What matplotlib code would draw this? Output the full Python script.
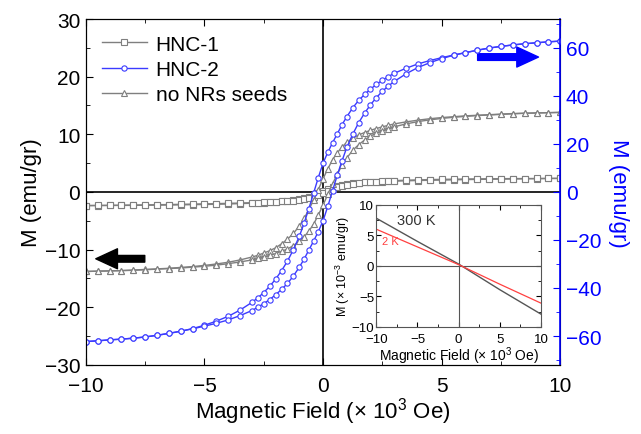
import matplotlib
matplotlib.use('Agg')
import matplotlib.pyplot as plt
from matplotlib.ticker import MultipleLocator
from matplotlib.patches import FancyArrowPatch

plt.rcParams['font.family'] = ['Liberation Sans', 'DejaVu Sans']
plt.rcParams['mathtext.fontset'] = 'custom'
plt.rcParams['mathtext.rm'] = 'Liberation Sans'
plt.rcParams['mathtext.it'] = 'Liberation Sans:italic'

# field sweep (x 10^3 Oe), descending branch; ascending branch is the same points reversed
field_down = [10, 9.5, 9, 8.5, 8, 7.5, 7, 6.5, 6, 5.5, 5, 4.5, 4, 3.5, 3, 2.75, 2.5, 2.25, 2,
              1.75, 1.5, 1.25, 1, 0.8, 0.6, 0.4, 0.2, 0, -0.2, -0.4, -0.6, -0.8, -1, -1.25,
              -1.5, -1.75, -2, -2.25, -2.5, -2.75, -3, -3.5, -4, -4.5, -5, -5.5, -6, -6.5, -7,
              -7.5, -8, -8.5, -9, -9.5, -10]
field_up = field_down[::-1]

# HNC-1 (emu/gr, left axis)
hnc1_down = [2.35, 2.33, 2.3, 2.28, 2.25, 2.22, 2.2, 2.17, 2.14, 2.1, 2.06, 2.02, 1.98, 1.93, 1.87,
             1.84, 1.8, 1.76, 1.71, 1.65, 1.58, 1.5, 1.38, 1.25, 1.08, 0.85, 0.55, 0.2, -0.2,
             -0.55, -0.85, -1.08, -1.25, -1.42, -1.55, -1.65, -1.73, -1.8, -1.86, -1.91, -1.96,
             -2.03, -2.09, -2.14, -2.18, -2.21, -2.24, -2.27, -2.29, -2.31, -2.33, -2.34, -2.35,
             -2.36, -2.37]
hnc1_up = [-2.37, -2.35, -2.33, -2.31, -2.28, -2.25, -2.22, -2.19, -2.15, -2.11, -2.07, -2.03,
           -1.98, -1.93, -1.87, -1.84, -1.8, -1.76, -1.71, -1.65, -1.58, -1.5, -1.38, -1.25,
           -1.08, -0.85, -0.55, -0.2, 0.2, 0.55, 0.85, 1.08, 1.25, 1.42, 1.55, 1.65, 1.73, 1.8,
           1.86, 1.91, 1.96, 2.03, 2.09, 2.14, 2.18, 2.21, 2.24, 2.26, 2.28, 2.3, 2.31, 2.32,
           2.33, 2.34, 2.35]

# no NRs seeds (emu/gr, left axis)
seeds_down = [13.8, 13.75, 13.7, 13.65, 13.6, 13.5, 13.4, 13.3, 13.2, 13.05, 12.9, 12.7, 12.45,
              12.15, 11.8, 11.55, 11.3, 11.0, 10.7, 10.3, 9.9, 9.3, 8.6, 7.8, 6.8, 5.6, 4.0, 2.3,
              0.4, -1.4, -3.1, -4.6, -5.9, -7.2, -8.2, -9.0, -9.7, -10.2, -10.6, -11.0, -11.3,
              -11.8, -12.2, -12.5, -12.75, -12.95, -13.1, -13.25, -13.35, -13.45, -13.55, -13.65,
              -13.7, -13.75, -13.8]
seeds_up = [-13.8, -13.75, -13.7, -13.65, -13.6, -13.5, -13.4, -13.3, -13.2, -13.05, -12.9,
            -12.7, -12.45, -12.15, -11.8, -11.55, -11.3, -11.0, -10.7, -10.3, -9.9, -9.3, -8.6,
            -7.8, -6.8, -5.6, -4.0, -2.3, -0.4, 1.4, 3.1, 4.6, 5.9, 7.2, 8.2, 9.0, 9.7, 10.2,
            10.6, 11.0, 11.3, 11.8, 12.2, 12.5, 12.75, 12.95, 13.1, 13.25, 13.35, 13.45, 13.55,
            13.65, 13.7, 13.75, 13.8]

# HNC-2 (emu/gr, right axis)
hnc2_down = [62.8, 62.5, 62.1, 61.7, 61.2, 60.6, 59.9, 59.0, 58.0, 57.0, 55.9, 54.7, 53.3, 51.5,
             49.4, 48.0, 46.5, 44.8, 42.8, 40.6, 38.1, 35.0, 31.3, 28.0, 24.2, 20.5, 16.5, 12.0,
             6.0, -0.5, -7.0, -13.0, -18.5, -24.0, -28.8, -32.8, -36.3, -39.3, -41.9, -44.1,
             -46.0, -49.2, -51.8, -53.8, -55.5, -56.9, -58.0, -58.9, -59.7, -60.4, -60.9, -61.3,
             -61.6, -62.0, -62.3]
hnc2_up = [-62.3, -62.0, -61.6, -61.3, -60.9, -60.4, -59.7, -58.9, -58.0, -57.0, -55.9, -54.7,
           -53.3, -51.5, -49.4, -48.0, -46.5, -44.8, -42.8, -40.6, -38.1, -35.0, -31.3, -28.0,
           -24.2, -20.5, -16.5, -12.0, -6.0, 0.5, 7.0, 13.0, 18.5, 24.0, 28.8, 32.8, 36.3, 39.3,
           41.9, 44.1, 46.0, 49.2, 51.8, 53.8, 55.5, 56.9, 58.0, 59.0, 59.9, 60.6, 61.2, 61.7,
           62.1, 62.5, 62.8]

# inset: diamagnetic reference (x 10^-3 emu/gr)
inset_field = [-10, -5, 0, 5, 10]
m_300k = [7.8, 4.0, 0.3, -3.9, -7.9]
m_2k = [6.0, 3.1, 0.2, -3.0, -6.1]

gray = '#7f7f7f'
blue = '#3b3bff'

fig = plt.figure(figsize=(6.41, 4.35), dpi=100)
ax = fig.add_axes([0.134, 0.159, 0.740, 0.795])
ax2 = ax.twinx()

ax.axhline(0, color='black', lw=1.2, zorder=1)
ax.axvline(0, color='black', lw=1.2, zorder=1)

mk = dict(markersize=3.8, markerfacecolor='white', markeredgewidth=0.8, lw=1)
l1, = ax.plot(field_down, hnc1_down, 's-', color=gray, label='HNC-1', **mk)
ax.plot(field_up, hnc1_up, 's-', color=gray, **mk)
l3, = ax.plot(field_down, seeds_down, '^-', color=gray, label='no NRs seeds', **mk)
ax.plot(field_up, seeds_up, '^-', color=gray, **mk)
l2, = ax2.plot(field_down, hnc2_down, 'o-', color=blue, label='HNC-2', **mk)
ax2.plot(field_up, hnc2_up, 'o-', color=blue, **mk)

ax.set_xlim(-10, 10)
ax.set_ylim(-30, 30)
ax2.set_ylim(-72, 72)
ax.xaxis.set_major_locator(MultipleLocator(5))
ax.xaxis.set_minor_locator(MultipleLocator(2.5))
ax.yaxis.set_major_locator(MultipleLocator(10))
ax.yaxis.set_minor_locator(MultipleLocator(5))
ax2.yaxis.set_major_locator(MultipleLocator(20))
ax2.yaxis.set_minor_locator(MultipleLocator(10))

ax.tick_params(which='both', direction='in', top=True, labelsize=15, pad=4)
ax.tick_params(axis='x', pad=8)
ax.tick_params(which='major', length=5)
ax.tick_params(which='minor', length=3)
ax2.tick_params(which='both', direction='in', colors='blue', labelsize=15, pad=4)
ax2.tick_params(which='major', length=5)
ax2.tick_params(which='minor', length=3)
ax2.spines['right'].set_color('blue')
ax2.spines['right'].set_linewidth(1.2)

ax.set_xlabel('Magnetic Field (× 10$^3$ Oe)', fontsize=16, labelpad=0)
ax.set_ylabel('M (emu/gr)', fontsize=16, labelpad=2)
ax2.set_ylabel('M (emu/gr)', fontsize=16, color='blue', rotation=270, labelpad=20)

ax.legend(handles=[l1, l2, l3], loc='upper left', frameon=False, fontsize=15,
          handlelength=2.2, handletextpad=0.4, labelspacing=0.3,
          borderaxespad=0.35, numpoints=1)

# direction arrows
ax.add_patch(FancyArrowPatch((-7.4, -11.6), (-9.7, -11.6), mutation_scale=12, color='black',
                             arrowstyle='simple,head_length=1.3,head_width=1.2,tail_width=0.4'))
ax.add_patch(FancyArrowPatch((6.4, 23.4), (9.2, 23.4), mutation_scale=12, color='blue',
                             arrowstyle='simple,head_length=1.3,head_width=1.2,tail_width=0.4'))

# inset
ins = fig.add_axes([0.587, 0.246, 0.257, 0.281])
ins.axhline(0, color='#555555', lw=0.8)
ins.axvline(0, color='#555555', lw=0.8)
ins.plot(inset_field, m_300k, color='#555555', lw=1)
ins.plot(inset_field, m_2k, color='#ff4040', lw=0.9)
ins.set_xlim(-10, 10)
ins.set_ylim(-10, 10)
ins.xaxis.set_major_locator(MultipleLocator(5))
ins.xaxis.set_minor_locator(MultipleLocator(2.5))
ins.yaxis.set_major_locator(MultipleLocator(5))
ins.yaxis.set_minor_locator(MultipleLocator(2.5))
ins.tick_params(which='both', direction='in', labelsize=9.5, top=True, right=True)
ins.tick_params(axis='x', pad=4)
ins.tick_params(axis='y', pad=1.5)
ins.tick_params(which='minor', length=2)
for s in ins.spines.values():
    s.set_color('#555555')
ins.set_xlabel('Magnetic Field (× 10$^3$ Oe)', fontsize=10, labelpad=0)
ins.set_ylabel('M (× 10$^{-3}$ emu/gr)', fontsize=9, labelpad=0)
ins.text(-7.5, 6.8, '300 K', fontsize=10.5, color='#333333')
ins.text(-9.3, 3.6, '2 K', fontsize=8, color='#ff4040')

fig.savefig('out.png', dpi=100)
